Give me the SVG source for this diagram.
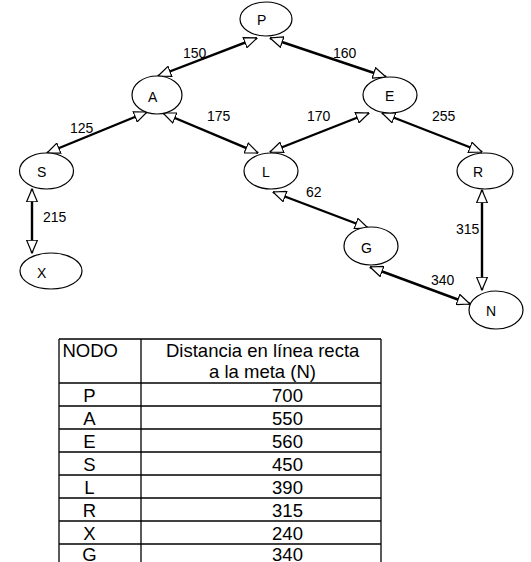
<svg xmlns="http://www.w3.org/2000/svg" width="531" height="562" viewBox="0 0 531 562">
<style>
.node ellipse{fill:#fff;stroke:#000;stroke-width:1.2}
.node text{font-family:"Liberation Sans",Arial,sans-serif;font-size:14px;fill:#000}
.edges line{stroke:#000;stroke-width:2.4;marker-start:url(#tri);marker-end:url(#tri)}
.lbl{font-family:"Liberation Sans",Arial,sans-serif;font-size:14px;fill:#000}
.tbl line{stroke:#000;stroke-width:1.3}
.tbl text{font-family:"Liberation Sans",Arial,sans-serif;font-size:18.5px;fill:#000}
</style>
<defs>
<marker id="tri" viewBox="0 0 14 12" refX="13.4" refY="6" markerWidth="14" markerHeight="12" markerUnits="userSpaceOnUse" orient="auto-start-reverse">
<path d="M0.6,0.6 L13.4,6 L0.6,11.4 Z" fill="#fff" stroke="#000" stroke-width="1.2"/>
</marker>
</defs>
<rect width="531" height="562" fill="#fff"/>
<g id="connectors" class="edges">
<line x1="158" y1="76" x2="257" y2="38"/>
<line x1="270" y1="38" x2="386" y2="77"/>
<line x1="147" y1="112" x2="47" y2="153"/>
<line x1="163" y1="113" x2="258" y2="153"/>
<line x1="32" y1="189" x2="32" y2="253"/>
<line x1="270" y1="152" x2="369" y2="113"/>
<line x1="382" y1="113" x2="482" y2="152"/>
<line x1="273" y1="192" x2="368" y2="228"/>
<line x1="370" y1="267" x2="470" y2="304"/>
<line x1="482" y1="190" x2="482" y2="290"/>
</g>
<g id="edge-labels">
<text class="lbl" x="183" y="58">150</text>
<text class="lbl" x="333" y="58">160</text>
<text class="lbl" x="70" y="133">125</text>
<text class="lbl" x="207" y="121">175</text>
<text class="lbl" x="307" y="121">170</text>
<text class="lbl" x="432" y="121">255</text>
<text class="lbl" x="43" y="222">215</text>
<text class="lbl" x="306" y="197">62</text>
<text class="lbl" x="456" y="234">315</text>
<text class="lbl" x="431" y="285">340</text>
</g>
<g id="node-P" class="node"><ellipse cx="266" cy="19" rx="26" ry="17"/><text x="257" y="25">P</text></g>
<g id="node-A" class="node"><ellipse cx="157" cy="95" rx="25" ry="19"/><text x="148" y="102">A</text></g>
<g id="node-E" class="node"><ellipse cx="390" cy="95" rx="27" ry="18"/><text x="385" y="101">E</text></g>
<g id="node-S" class="node"><ellipse cx="46.5" cy="171" rx="27" ry="18"/><text x="37" y="177">S</text></g>
<g id="node-L" class="node"><ellipse cx="271" cy="171" rx="27" ry="18"/><text x="262" y="177">L</text></g>
<g id="node-R" class="node"><ellipse cx="485" cy="171" rx="28" ry="18"/><text x="473" y="177">R</text></g>
<g id="node-X" class="node"><ellipse cx="51" cy="271" rx="31" ry="18"/><text x="37" y="278">X</text></g>
<g id="node-G" class="node"><ellipse cx="371" cy="246" rx="27" ry="19"/><text x="361" y="253">G</text></g>
<g id="node-N" class="node"><ellipse cx="496" cy="310" rx="27" ry="19"/><text x="486" y="316">N</text></g>
<g id="table" class="tbl">
<line x1="59" y1="339" x2="381" y2="339"/>
<line x1="59" y1="383" x2="381" y2="383"/>
<line x1="59" y1="406" x2="381" y2="406"/>
<line x1="59" y1="429" x2="381" y2="429"/>
<line x1="59" y1="452" x2="381" y2="452"/>
<line x1="59" y1="475" x2="381" y2="475"/>
<line x1="59" y1="498" x2="381" y2="498"/>
<line x1="59" y1="521" x2="381" y2="521"/>
<line x1="59" y1="544" x2="381" y2="544"/>
<line x1="59" y1="339" x2="59" y2="562"/>
<line x1="141" y1="339" x2="141" y2="562"/>
<line x1="381" y1="339" x2="381" y2="562"/>
<text x="62.5" y="357">NODO</text>
<text x="166" y="357">Distancia en línea recta</text>
<text x="209" y="378">a la meta (N)</text>
<g text-anchor="middle">
<text x="89.5" y="402">P</text>
<text x="89.5" y="425">A</text>
<text x="89.5" y="448">E</text>
<text x="89.5" y="471">S</text>
<text x="89.5" y="494">L</text>
<text x="89.5" y="517">R</text>
<text x="89.5" y="540">X</text>
<text x="89.5" y="561">G</text>
<text x="287.5" y="402">700</text>
<text x="287.5" y="425">550</text>
<text x="287.5" y="448">560</text>
<text x="287.5" y="471">450</text>
<text x="287.5" y="494">390</text>
<text x="287.5" y="517">315</text>
<text x="287.5" y="540">240</text>
<text x="287.5" y="561">340</text>
</g>
</g>
</svg>
